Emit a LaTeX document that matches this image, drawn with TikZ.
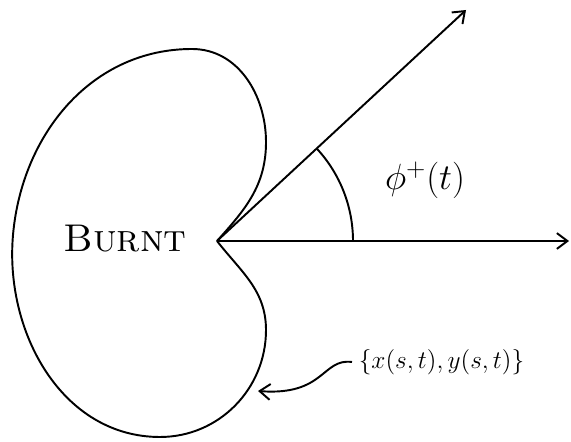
\documentclass[tikz,border=0pt]{standalone}
\usetikzlibrary{arrows.meta}
\begin{document}
\begin{tikzpicture}[x=0.02cm, y=0.02cm, >={Straight Barb[length=6pt,width=9pt]}, line width=1.1pt]
	\useasboundingbox (0,0) rectangle (571,442);
	\coordinate (o) at (217,201);
	\coordinate (ray) at (466,432);
	\coordinate (axis) at (569,201);
	\coordinate (tip) at (258,51);
	\draw (o) to[out=48, in=-90] (266,300) to[out=90, in=0] (192,393)
		to[out=180, in=85] (13,207) to[out=-95, in=180] (160,5)
		to[out=0, in=-90] (266,112) to[out=90, in=-52] (o);
	\draw[->] (o) -- (ray);
	\draw[->] (o) -- (axis);
	\draw ([shift={(0:136)}]o) arc[start angle=0, end angle=42.85, radius=136];
	\node (burnt) at (125,203) {\fontsize{22}{22}\selectfont\textsc{Burnt}};
	\node (phi) at (425,262) {\fontsize{22}{22}\selectfont$\phi^{+}(t)$};
	\node[right] (curve) at (352,80) {\fontsize{14}{14}\selectfont$\{x(s,t),y(s,t)\}$};
	\draw[->] (curve.west) .. controls (322,84) and (325,46) .. (tip);
\end{tikzpicture}
\end{document}
